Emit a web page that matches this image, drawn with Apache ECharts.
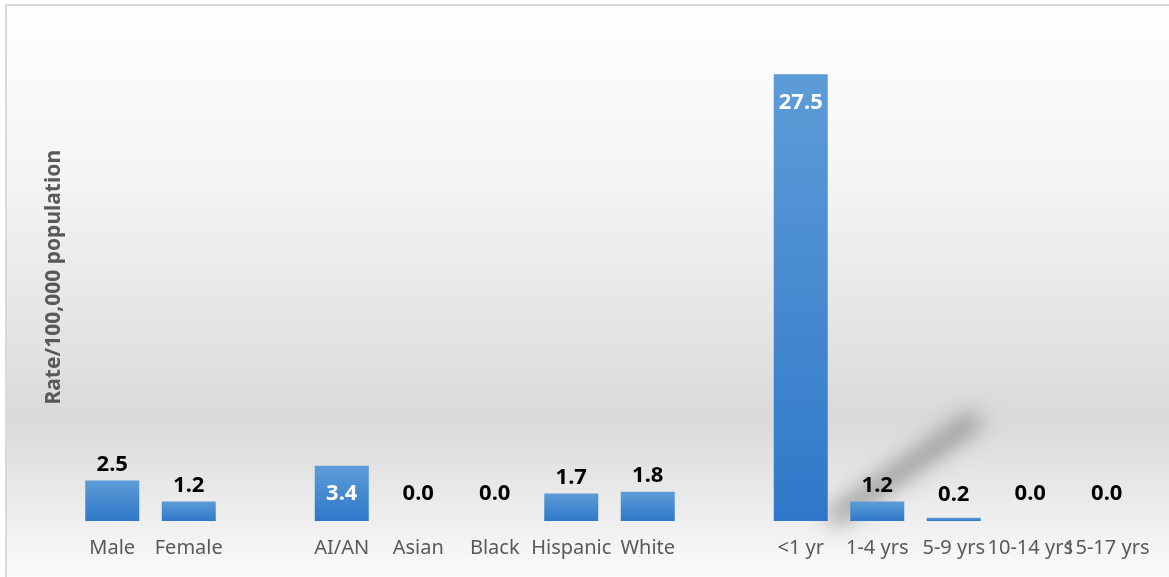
<!DOCTYPE html>
<html>
<head>
<meta charset="utf-8">
<script src="https://cdn.jsdelivr.net/npm/echarts@6/dist/echarts.min.js"></script>
<style>
html,body{margin:0;padding:0;background:#fff;}
#chart{width:1169px;height:577px;}
</style>
</head>
<body>
<div id="chart"></div>
<script>
const categories = ['Male','Female','','AI/AN','Asian','Black','Hispanic','White','','<1 yr','1-4 yrs','5-9 yrs','10-14 yrs','15-17 yrs'];
const rates = [2.5, 1.2, null, 3.4, 0.0, 0.0, 1.7, 1.8, null, 27.5, 1.2, 0.2, 0.0, 0.0];
const yAxisTitle = 'Rate/100,000 population';
const labelsInside = ['AI/AN'];
const labelsInsideTop = ['<1 yr'];

const chart = echarts.init(document.getElementById('chart'), null, {renderer:'canvas'});

const FONT = '"Noto Sans", "Open Sans", sans-serif';

const seriesData = rates.map((v, i) => {
  if (v === null) return '-';
  const cat = categories[i];
  let label;
  if (labelsInside.includes(cat)) {
    label = {position:'inside', color:'#fff'};
  } else if (labelsInsideTop.includes(cat)) {
    label = {position:'insideTop', color:'#fff', distance:18};
  } else {
    let d = 5;
    if (v === 0) d = 16; else if (v < 0.5) d = 12;
    label = {position:'top', color:'#000', distance:d};
  }
  return {value: v, label};
});

const barGrad = new echarts.graphic.LinearGradient(0,0,0,1,[
  {offset:0,color:'#5d9cd7'},
  {offset:1,color:'#2f78c9'}
]);

chart.setOption({
  animation:false,
  backgroundColor:'#ffffff',
  graphic:[
    {
      type:'rect', z:-10, silent:true,
      shape:{x:6, y:5, width:1175, height:590},
      style:{
        fill:new echarts.graphic.LinearGradient(0,0,0,1,[
          {offset:0,color:'#ffffff'},
          {offset:0.3,color:'#f4f4f4'},
          {offset:0.55,color:'#e4e4e4'},
          {offset:0.7,color:'#dadada'},
          {offset:0.85,color:'#ececec'},
          {offset:1,color:'#ffffff'}
        ]),
        stroke:'#d9d9d9', lineWidth:2
      }
    },
    {
      type:'polyline', z:-5, silent:true,
      shape:{points:[[836-3000,516],[972-3000,422]]},
      style:{
        stroke:'#000', lineWidth:16, lineCap:'round',
        shadowColor:'rgba(115,115,115,0.8)', shadowBlur:22,
        shadowOffsetX:3000, shadowOffsetY:0
      }
    }
  ],
  grid:{left:74, right:24, top:33.5, bottom:56},
  xAxis:{
    type:'category',
    data:categories,
    axisLine:{show:false},
    axisTick:{show:false},
    axisLabel:{interval:0, color:'#595959', fontSize:20, fontFamily:FONT, margin:17}
  },
  yAxis:{
    type:'value', min:0, max:30,
    axisLine:{show:false}, axisTick:{show:false}, axisLabel:{show:false},
    splitLine:{show:false},
    name:yAxisTitle, nameLocation:'middle', nameGap:9,
    nameTextStyle:{color:'#595959', fontSize:21, fontWeight:'bold', fontFamily:FONT}
  },
  series:[{
    type:'bar',
    data:seriesData,
    barWidth:54,
    itemStyle:{color:barGrad},
    label:{show:true, fontSize:22, fontWeight:'bold', fontFamily:FONT,
      formatter:p => Number(p.value).toFixed(1)}
  }]
});
</script>
</body>
</html>
